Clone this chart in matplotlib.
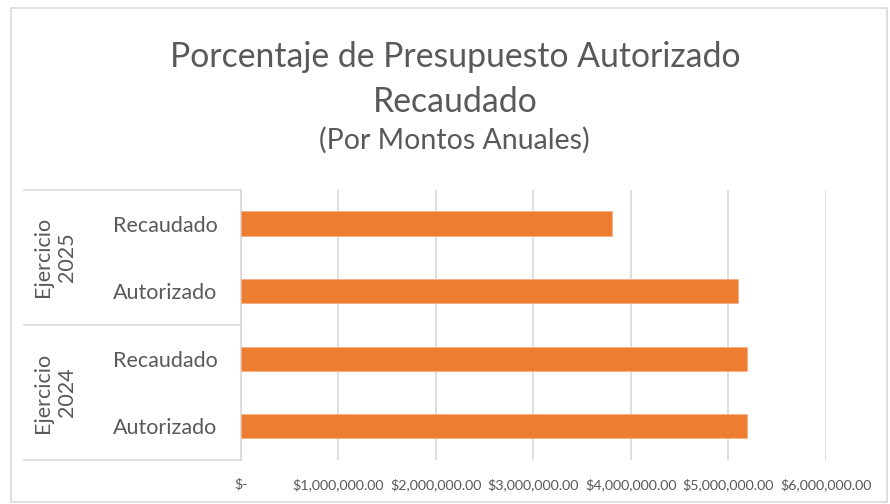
import matplotlib
matplotlib.use("Agg")
import matplotlib.pyplot as plt
from matplotlib.ticker import FuncFormatter
from matplotlib.lines import Line2D

# data (bottom to top)
groups = ["Ejercicio\n2024", "Ejercicio\n2025"]
labels = ["Autorizado", "Recaudado", "Autorizado", "Recaudado"]
montos = [5190000, 5190000, 5100000, 3810000]
xticks = [0, 1000000, 2000000, 3000000, 4000000, 5000000, 6000000]

plt.rcParams["font.family"] = ["Lato", "DejaVu Sans"]
txt = "#595959"
naranja = "#ED7D31"
gris = "#D9D9D9"

fig = plt.figure(figsize=(8.9, 5.04), dpi=100)
ax = fig.add_axes([0.2708, 0.0873, 0.657, 0.536])

pos = list(range(len(labels)))
ax.barh(pos, montos, height=0.36, color=naranja, edgecolor="#F4B183", linewidth=0.6, zorder=3)
ax.set_xlim(0, 6000000)
ax.set_ylim(-0.5, len(labels) - 0.5)

ax.set_xticks(xticks)
ax.xaxis.set_major_formatter(FuncFormatter(lambda v, p: "$-" if v == 0 else "${:,.2f}".format(v)))
ax.tick_params(axis="x", length=0, pad=13, labelsize=10.3, labelcolor=txt)
ax.grid(axis="x", color=gris, linewidth=1.2, zorder=0)
ax.set_yticks(pos)
ax.set_yticklabels(labels)
ax.tick_params(axis="y", length=0, pad=17, labelsize=15.5, labelcolor=txt)
for s in ["top", "right", "bottom"]:
    ax.spines[s].set_visible(False)
ax.spines["left"].set_color(gris)
ax.spines["left"].set_linewidth(1.2)

# grouped category axis
tr = ax.get_yaxis_transform()
x0 = -0.371
for yb in [-0.5, 1.5, 3.5]:
    ax.add_line(Line2D([x0, 0], [yb, yb], transform=tr, color=gris, lw=1.2, clip_on=False))
for i, g in enumerate(groups):
    ax.text(-0.318, 2 * i + 0.5, g, transform=tr, rotation=90, ha="center", va="center",
            fontsize=15.5, color=txt, linespacing=1.25)

# chart border
fig.add_artist(plt.Rectangle((0.012, 0.004), 0.985, 0.98, transform=fig.transFigure,
                             fill=False, edgecolor=gris, lw=1.2))

fig.text(0.511, 0.886, "Porcentaje de Presupuesto Autorizado", ha="center", va="center",
         fontsize=24.3, color=txt)
fig.text(0.511, 0.798, "Recaudado", ha="center", va="center", fontsize=24.3, color=txt)
fig.text(0.511, 0.722, "(Por Montos Anuales)", ha="center", va="center", fontsize=20.5,
         color=txt)

fig.savefig("out.png", dpi=100)
